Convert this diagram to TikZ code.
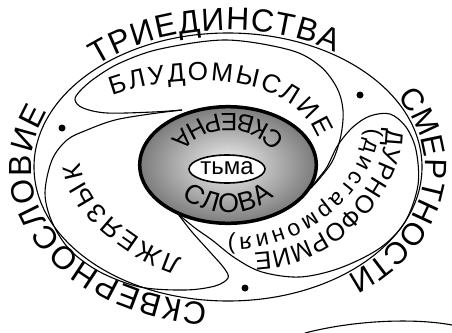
\documentclass[tikz,border=0pt]{standalone}
\usepackage{fontspec}
\setmainfont{Liberation Sans}
\usetikzlibrary{decorations.text}
\begin{document}
\begin{tikzpicture}[x=1pt,y=-1pt,
  declare function={bz(\t,\a,\b,\c,\d)=(1-\t)^3*\a+3*(1-\t)^2*\t*\b+3*(1-\t)*\t^2*\c+\t^3*\d;},
  ln/.style={line width=1.1pt},
  txt/.style 2 args={decorate, decoration={text along path, text align={fit to path}, text={|\fontsize{#1}{#1}\selectfont|#2}}}
]
\useasboundingbox (0,0) rectangle (452,332);

% outer ellipse
\draw[ln] (228,167) ellipse [x radius=194, y radius=134];

% petals
\draw[ln] plot[smooth, tension=0.55] coordinates {(311,188) (320,178) (333,160) (341,135) (343,110) (337,88) (320,66) (290,50) (226,40) (160,49) (120,63) (95,78) (80,91) (75,100) (83,108) (107,113) (153,112) (182,110)};
\draw[ln] plot[smooth, tension=0.55] coordinates {(178,214) (195,228) (212,240) (235,258) (262,272) (300,277) (340,268) (380,248) (405,222) (418,185) (416,150) (406,127) (390,114) (370,116) (353,127) (338,145) (327,167) (317,180) (311,188)};
\draw[ln] plot[smooth, tension=0.55] coordinates {(182,110) (150,114) (115,120) (87,130) (67,140) (52,160) (45,193) (52,222) (70,250) (100,272) (140,287) (185,290) (215,286) (228,278) (224,268) (210,252) (192,232) (178,214)};

% dots
\fill (62,128) circle (3.5);
\fill (360,95) circle (3.5);
\fill (245,288) circle (3.5);

% outer texts
\path[txt={32}{ТРИЕДИНСТВА}] plot[domain=-132:-57, samples=60] ({228+197*cos(\x)},{167+137*sin(\x)});
\path[txt={31}{СМЕРТНОСТИ}] plot[domain=-31:50, samples=60] ({228+197*cos(\x)},{167+137*sin(\x)});
\path[txt={32}{СКВЕРНОСЛОВИЕ}] plot[domain=96:204, samples=80] ({228+197*cos(\x)},{167+137*sin(\x)});

% inner texts
\path[txt={26}{БЛУДОМЫСЛИЕ}] plot[domain=0:1, samples=50] ({bz(\x,112,175,290,318)},{bz(\x,96,72,70,138)});
\path[txt={25}{ДУРНОФОРМИЕ}] plot[domain=0:1, samples=50] ({bz(\x,386,388,330,254)},{bz(\x,128,180,250,253)});
\path[txt={23}{(дисгармония)}] plot[domain=0:1, samples=50] ({bz(\x,367,366,300,228)},{bz(\x,128,180,240,237)});
\path[txt={26}{ЛЖЕЯЗЫК}] plot[domain=0:1, samples=50] ({bz(\x,182,140,85,80)},{bz(\x,258,245,205,163)});

% centre
\shade[inner color=black!5, outer color=black!52] (228,165) ellipse [x radius=89, y radius=59];
\draw[line width=3.5pt] (228,165) ellipse [x radius=88.3, y radius=58.3];
\path[txt={25}{СКВЕРНА}] plot[domain=-28:-152, samples=60] ({228+64*cos(\x)},{164+51*sin(\x)});
\path[txt={27}{СЛОВА}] plot[domain=138:42, samples=60] ({228+62*cos(\x)},{163+50*sin(\x)});
\draw[fill=white, line width=1.6pt] (227,169) ellipse [x radius=38, y radius=14];
\node[font=\fontsize{24}{24}\selectfont] (tma) at (227,168) {тьма};

% partial curve bottom right
\draw[ln] (305,333) .. controls (355,320) and (415,318) .. (452,325);
\end{tikzpicture}
\end{document}
